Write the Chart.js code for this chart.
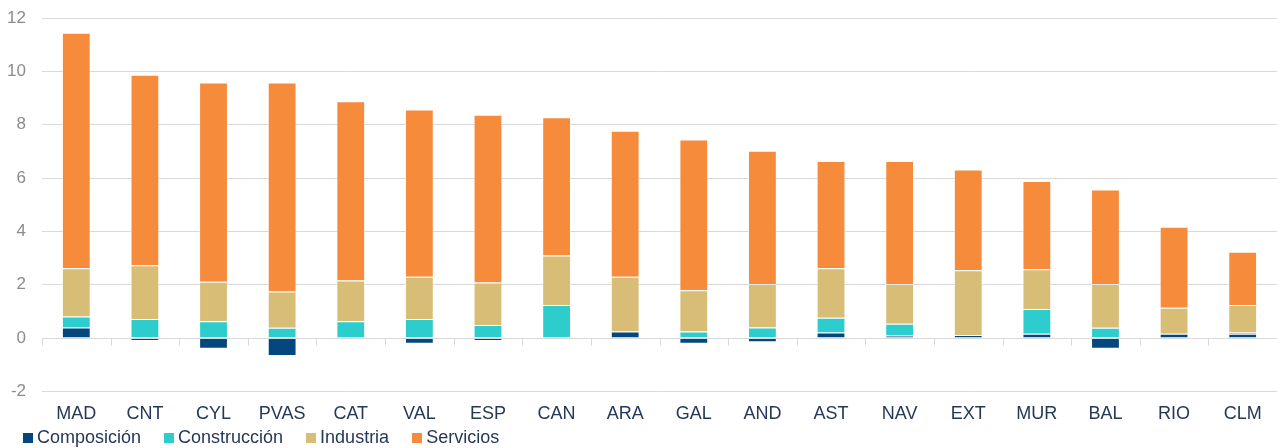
<!DOCTYPE html>
<html lang="es">
<head>
<meta charset="utf-8">
<title>Contribución por sectores</title>
<script src="https://cdn.jsdelivr.net/npm/chart.js@4.4.1/dist/chart.umd.min.js"></script>
<style>
  html, body { margin: 0; padding: 0; background: #ffffff; }
  #wrap { position: relative; width: 1277px; height: 448px; }
  #chart { display: block; }
  #legend {
    position: absolute; left: 23px; top: 427px; height: 21px;
    display: flex; align-items: center;
    font-family: "Liberation Sans", Arial, sans-serif; font-size: 18px; color: #253858;
  }
  #legend .item { display: flex; align-items: center; margin-right: 23px; }
  #legend .sw { width: 10px; height: 10px; margin-right: 4px; }
</style>
</head>
<body>
<div id="wrap">
  <canvas id="chart" width="1277" height="448"></canvas>
  <div id="legend"></div>
</div>
<script>
// Regions, ordered by total
const categories = ['MAD','CNT','CYL','PVAS','CAT','VAL','ESP','CAN','ARA','GAL','AND','AST','NAV','EXT','MUR','BAL','RIO','CLM'];

// Contribution of each component
const composicion  = [0.40,-0.11,-0.40,-0.67,0.00,-0.21,-0.11,0.00,0.25,-0.21,-0.16,0.21,0.10,0.11,0.16,-0.40,0.16,0.16];
const construccion = [0.41,0.71,0.63,0.39,0.63,0.71,0.49,1.24,0.00,0.25,0.40,0.55,0.44,0.00,0.93,0.39,0.00,0.05];
const industria    = [1.81,2.02,1.48,1.36,1.53,1.59,1.59,1.86,2.05,1.54,1.63,1.86,1.49,2.43,1.49,1.64,0.98,1.03];
const servicios    = [8.83,7.14,7.47,7.83,6.72,6.27,6.29,5.18,5.47,5.65,4.99,4.02,4.61,3.78,3.31,3.54,3.03,2.00];

const seriesNames = ['Composición','Construcción','Industria','Servicios'];
const yTicks = [-2, 0, 2, 4, 6, 8, 10, 12];

const colors = ['#04477F','#2ECDCD','#D8BD76','#F68B3B'];
const seriesData = [composicion, construccion, industria, servicios];

const datasets = seriesNames.map((name, i) => ({
  label: name,
  data: seriesData[i],
  backgroundColor: colors[i],
  borderColor: 'rgba(255,255,255,0.45)',
  borderWidth: 1,
  barPercentage: 0.42,
  categoryPercentage: 1.0
}));

// Zero baseline with category tick marks, drawn over the bars
const zeroAxis = {
  id: 'zeroAxis',
  afterDatasetsDraw(chart) {
    const { ctx, chartArea, scales: { x, y } } = chart;
    const y0 = Math.round(y.getPixelForValue(0)) + 0.5;
    const step = x.getPixelForValue(1) - x.getPixelForValue(0);
    ctx.save();
    ctx.strokeStyle = '#d9d9d9';
    ctx.lineWidth = 1;
    ctx.beginPath();
    ctx.moveTo(chartArea.left, y0);
    ctx.lineTo(chartArea.right, y0);
    for (let i = 0; i < categories.length; i++) {
      const bx = Math.round(x.getPixelForValue(i) - step / 2) + 0.5;
      ctx.moveTo(bx, y0);
      ctx.lineTo(bx, y0 + 7);
    }
    ctx.stroke();
    ctx.restore();
  }
};

new Chart(document.getElementById('chart'), {
  type: 'bar',
  data: { labels: categories, datasets },
  options: {
    responsive: false,
    animation: false,
    layout: { padding: { top: 0, left: 7, right: 0, bottom: 11 } },
    plugins: { legend: { display: false }, tooltip: { enabled: false } },
    scales: {
      x: {
        stacked: true,
        grid: { display: false, drawTicks: false },
        border: { display: false },
        ticks: {
          color: '#253858',
          padding: 12,
          font: { family: '"Liberation Sans", Arial, sans-serif', size: 18 }
        }
      },
      y: {
        stacked: true,
        min: -2,
        max: 12,
        afterBuildTicks(scale) { scale.ticks = yTicks.map(v => ({ value: v })); },
        afterFit(scale) { scale.width = 35; scale.paddingTop = 18; },
        grid: { color: '#d9d9d9', lineWidth: 1, drawTicks: false },
        border: { display: false },
        ticks: {
          color: '#8c8c8c',
          padding: 16,
          font: { family: '"Liberation Sans", Arial, sans-serif', size: 17 }
        }
      }
    }
  },
  plugins: [zeroAxis]
});

// Legend
const legend = document.getElementById('legend');
seriesNames.forEach((name, i) => {
  const item = document.createElement('div');
  item.className = 'item';
  const sw = document.createElement('span');
  sw.className = 'sw';
  sw.style.background = colors[i];
  const txt = document.createElement('span');
  txt.textContent = name;
  item.appendChild(sw);
  item.appendChild(txt);
  legend.appendChild(item);
});
</script>
</body>
</html>
